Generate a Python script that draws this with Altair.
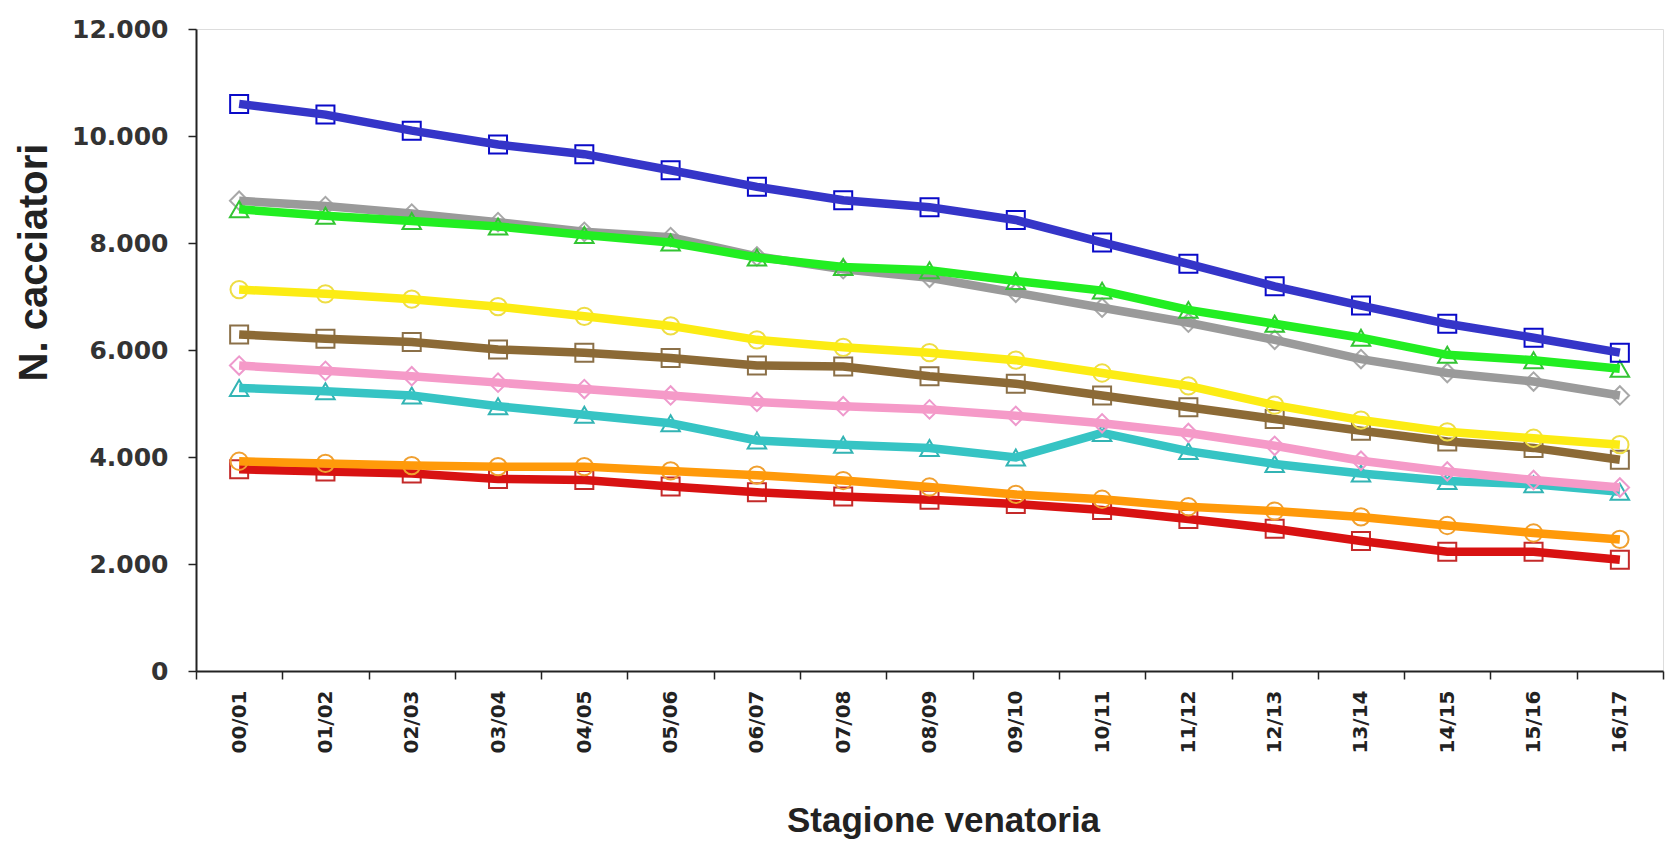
import altair as alt
import pandas as pd

stagioni = ["00/01", "01/02", "02/03", "03/04", "04/05", "05/06", "06/07", "07/08", "08/09",
            "09/10", "10/11", "11/12", "12/13", "13/14", "14/15", "15/16", "16/17"]

serie_blu = [10600, 10400, 10100, 9840, 9660, 9360, 9050, 8800, 8670, 8430, 8010, 7610, 7190, 6830, 6490, 6230, 5950]
serie_grigio = [8790, 8690, 8550, 8390, 8210, 8110, 7750, 7510, 7350, 7070, 6790, 6510, 6190, 5830, 5570, 5410, 5150]
serie_verde = [8630, 8510, 8410, 8310, 8150, 8010, 7730, 7550, 7490, 7290, 7110, 6750, 6490, 6230, 5910, 5810, 5650]
serie_giallo = [7130, 7050, 6950, 6810, 6630, 6450, 6190, 6050, 5950, 5810, 5570, 5330, 4970, 4690, 4470, 4350, 4230]
serie_marrone = [6290, 6210, 6150, 6010, 5950, 5850, 5710, 5690, 5510, 5370, 5150, 4930, 4710, 4490, 4290, 4170, 3950]
serie_rosa = [5710, 5610, 5510, 5390, 5270, 5150, 5030, 4950, 4890, 4770, 4630, 4450, 4210, 3930, 3730, 3570, 3430]
serie_ciano = [5290, 5230, 5150, 4950, 4790, 4630, 4310, 4230, 4170, 3990, 4450, 4110, 3870, 3690, 3550, 3490, 3350]
serie_arancio = [3920, 3880, 3840, 3820, 3820, 3740, 3660, 3560, 3440, 3300, 3210, 3070, 2990, 2880, 2720, 2580, 2460]
serie_rosso = [3770, 3730, 3690, 3590, 3570, 3450, 3340, 3260, 3200, 3120, 3010, 2840, 2660, 2430, 2230, 2230, 2080]

serie = {
    "blu": serie_blu, "grigio": serie_grigio, "verde": serie_verde, "giallo": serie_giallo,
    "marrone": serie_marrone, "rosa": serie_rosa, "ciano": serie_ciano,
    "arancio": serie_arancio, "rosso": serie_rosso,
}
ordine = ["rosso", "arancio", "ciano", "rosa", "marrone", "giallo", "grigio", "verde", "blu"]
colori_linea = {"blu": "#3535c8", "grigio": "#9a9a9a", "verde": "#22ee22", "giallo": "#fcec14",
                "marrone": "#8c6a36", "rosa": "#f59ac8", "ciano": "#36c4c4",
                "arancio": "#ff9a0a", "rosso": "#d81212"}
colori_marker = {"blu": "#0a0ac8", "grigio": "#a8a8a8", "verde": "#33c433", "giallo": "#eedd44",
                 "marrone": "#8b7048", "rosa": "#ee99cc", "ciano": "#33b4b4",
                 "arancio": "#f0a030", "rosso": "#c42a2a"}
forme = {"blu": "square", "grigio": "diamond", "verde": "triangle-up", "giallo": "circle",
         "marrone": "square", "rosa": "diamond", "ciano": "triangle-up",
         "arancio": "circle", "rosso": "square"}
dimensioni = {"square": 324, "diamond": 340, "triangle-up": 340, "circle": 300}

rows = []
for k in ordine:
    for s, v in zip(stagioni, serie[k]):
        rows.append({"stagione": s, "valore": v, "serie": k})
df = pd.DataFrame(rows)

x_enc = alt.X("stagione:O", sort=stagioni, bandPosition=0.5,
              scale=alt.Scale(type="band", paddingInner=0, paddingOuter=0),
              axis=alt.Axis(title="Stagione venatoria", labelAngle=270, tickBand="extent",
                            labelFont="DejaVu Sans", labelFontWeight="bold", labelFontSize=20,
                            labelColor="#222222", labelPadding=11,
                            titleFont="Liberation Sans", titleFontWeight="bold", titleFontSize=35,
                            titleColor="#222222", titleX=747, titleY=149,
                            titleBaseline="middle", titleAlign="center",
                            domainColor="#222222", domainWidth=2, tickColor="#222222",
                            tickWidth=1.5, tickSize=8))
y_enc = alt.Y("valore:Q", scale=alt.Scale(domain=[0, 12000], nice=False),
              axis=alt.Axis(title="N. cacciatori", values=[0, 2000, 4000, 6000, 8000, 10000, 12000],
                            labelExpr="replace(format(datum.value, ','), ',', '.')",
                            labelFont="DejaVu Sans", labelFontWeight="bold", labelFontSize=25,
                            labelColor="#333333", labelPadding=20, grid=False,
                            titleFont="Liberation Sans", titleFontWeight="bold", titleFontSize=40,
                            titleColor="#222222", titleX=-162, titleY=233, titleAngle=270,
                            titleBaseline="middle", titleAlign="center",
                            domainColor="#222222", domainWidth=2, tickColor="#222222",
                            tickWidth=1.5, tickSize=8))

layers = []
for k in ordine:
    d = df[df["serie"] == k]
    base = alt.Chart(d)
    pts = base.mark_point(shape=forme[k], filled=False, color=colori_marker[k],
                          strokeWidth=2, size=dimensioni[forme[k]], opacity=1).encode(x=x_enc, y=y_enc)
    line = base.mark_line(color=colori_linea[k], strokeWidth=8.5).encode(x=x_enc, y=y_enc)
    layers += [pts, line]

chart = alt.layer(*layers).properties(
    width=1467, height=642,
    autosize=alt.AutoSizeParams(type="none"),
    padding={"left": 188, "top": 21, "right": 3, "bottom": 170},
).configure_view(stroke=None).configure(background="white")

chart.save("out.html", embed_options={"renderer": "svg", "actions": False})
